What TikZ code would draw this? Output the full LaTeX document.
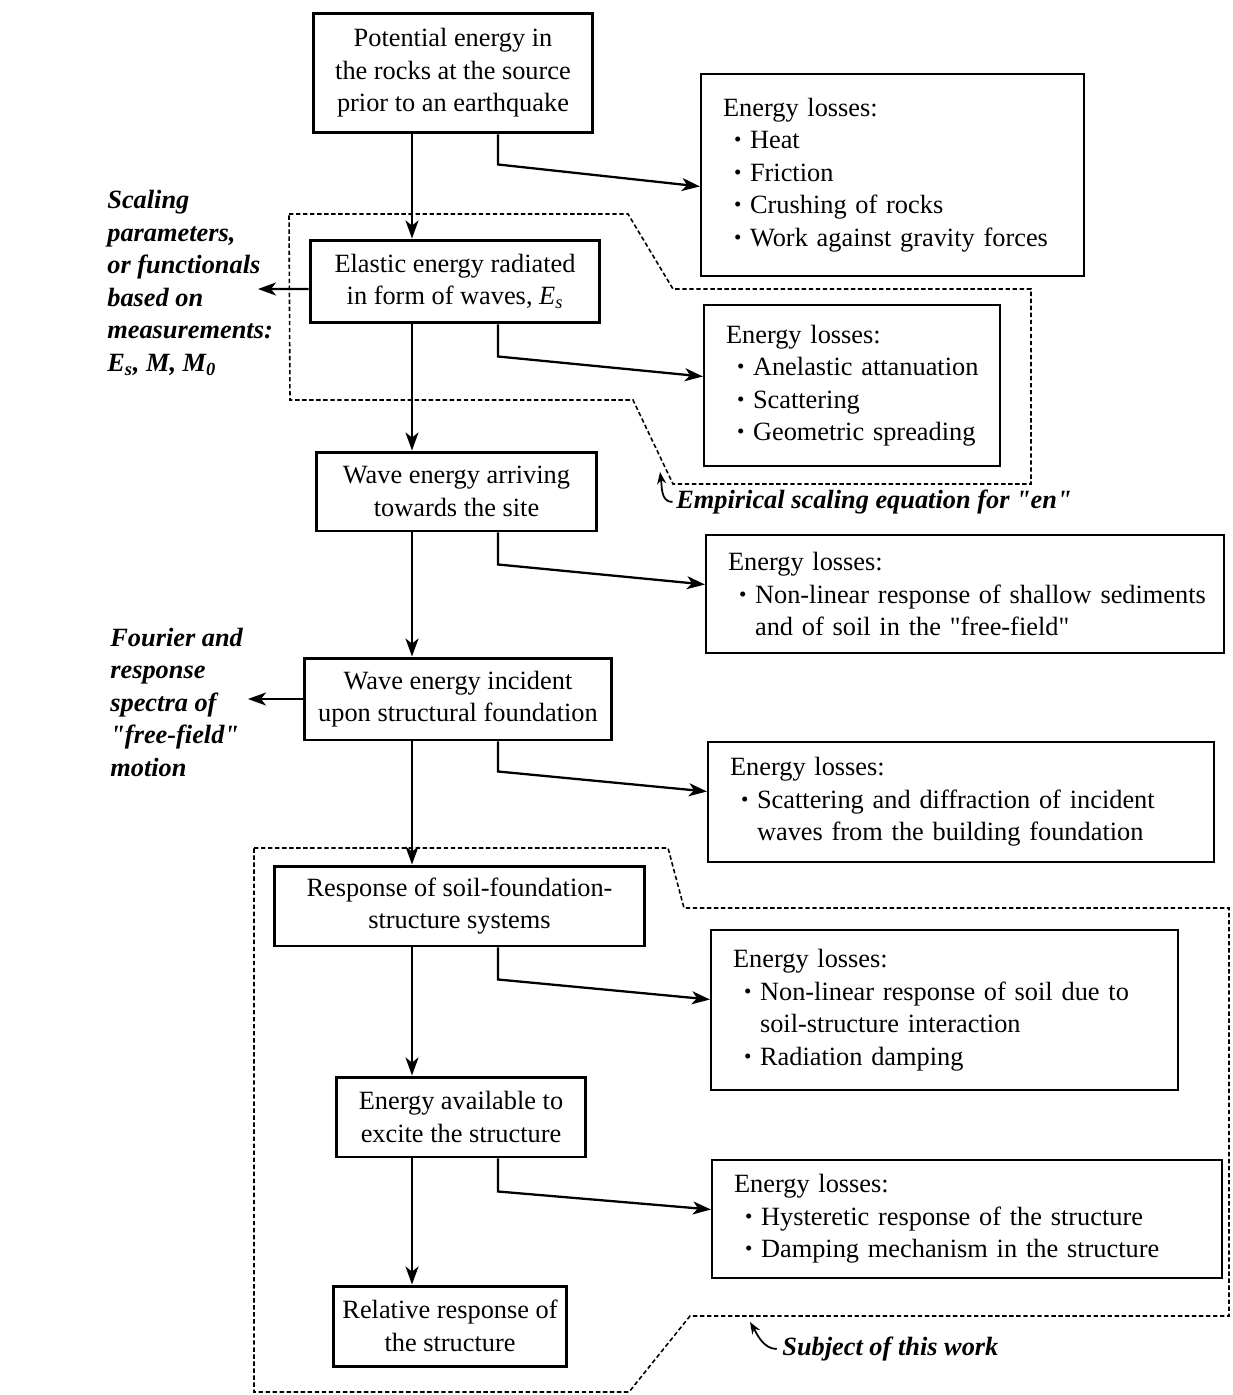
\documentclass[tikz,border=0pt]{standalone}
\usepackage{fontspec}
\setmainfont{Liberation Serif}
\usetikzlibrary{arrows.meta,calc}

\newcommand{\lossbul}[1]{\hspace*{0.22cm}\makebox[0.32cm][l]{\raisebox{0.04cm}{\scalebox{0.8}{\textbullet}}}\mbox{#1}}
\newcommand{\losscont}[1]{\hspace*{0.54cm}\mbox{#1}}
\newcommand{\dq}{\textquotedbl}

\begin{document}
\begin{tikzpicture}[
  x=0.02cm, y=-0.02cm,
  every node/.style={font=\fontsize{15pt}{18.5pt}\selectfont},
  main_box/.style={draw, line width=1.7pt, align=center, inner sep=0pt},
  loss_box/.style={draw, line width=1.3pt, align=left, inner xsep=0.44cm, inner ysep=0pt},
  side_note/.style={align=left, inner sep=0pt, font=\fontsize{15pt}{18.5pt}\selectfont\bfseries\itshape},
  arr/.style={line width=1.3pt, -{Stealth[length=0.36cm, width=0.26cm, inset=0.1cm]}},
  hook_arr/.style={line width=1pt, -{Stealth[length=0.24cm, width=0.18cm]}},
  dash_region/.style={line width=0.9pt, dash pattern=on 2.5pt off 1.5pt}
  ]
	\useasboundingbox (0,0) rectangle (1232,1395);

	\node[main_box, minimum width=5.6cm, minimum height=2.4cm] (src) at (453,73) {Potential energy in\\the rocks at the source\\prior to an earthquake};
	\node[main_box, minimum width=5.8cm, minimum height=1.66cm] (ela) at (455,281.5) {Elastic energy radiated\\in form of waves, {\itshape E}\textsubscript{\itshape s}};
	\node[main_box, minimum width=5.62cm, minimum height=1.58cm] (site) at (456.5,491.5) {Wave energy arriving\\towards the site};
	\node[main_box, minimum width=6.16cm, minimum height=1.64cm] (inc) at (458,699) {Wave energy incident\\upon structural foundation};
	\node[main_box, minimum width=7.42cm, minimum height=1.6cm] (ssi) at (459.5,906) {Response of soil-foundation-\\structure systems};
	\node[main_box, minimum width=5.0cm, minimum height=1.6cm] (avail) at (461,1117) {Energy available to\\excite the structure};
	\node[main_box, minimum width=4.68cm, minimum height=1.6cm] (rel) at (450,1326) {Relative response of\\the structure};

	\node[loss_box, text width=6.78cm, minimum height=4.04cm] (loss1) at (892.5,175) {Energy losses:\\\lossbul{Heat}\\\lossbul{Friction}\\\lossbul{Crushing of rocks}\\\lossbul{Work against gravity forces}};
	\node[loss_box, text width=5.04cm, minimum height=3.22cm] (loss2) at (852,385.5) {Energy losses:\\\lossbul{Anelastic attanuation}\\\lossbul{Scattering}\\\lossbul{Geometric spreading}};
	\node[loss_box, text width=9.48cm, minimum height=2.36cm] (loss3) at (965,594) {Energy losses:\\\lossbul{Non-linear response of shallow sediments}\\\losscont{and of soil in the \dq free-field\dq}};
	\node[loss_box, text width=9.24cm, minimum height=2.4cm] (loss4) at (961,802) {Energy losses:\\\lossbul{Scattering and diffraction of incident}\\\losscont{waves from the building foundation}};
	\node[loss_box, text width=8.46cm, minimum height=3.2cm] (loss5) at (944.5,1010) {Energy losses:\\\lossbul{Non-linear response of soil due to}\\\losscont{soil-structure interaction}\\\lossbul{Radiation damping}};
	\node[loss_box, text width=9.32cm, minimum height=2.36cm] (loss6) at (967,1219) {Energy losses:\\\lossbul{Hysteretic response of the structure}\\\lossbul{Damping mechanism in the structure}};

	\node[side_note, anchor=west] (scal) at (107,283) {Scaling\\parameters,\\or functionals\\based on\\measurements:\\E\textsubscript{s}, M, M\textsubscript{0}};
	\node[side_note, anchor=west] (four) at (110,702) {Fourier and\\response\\spectra of\\\dq free-field\dq\\motion};
	\node[side_note, anchor=west] (emp) at (676,502) {Empirical scaling equation for \dq en\dq};
	\node[side_note, anchor=west] (subj) at (782,1349) {Subject of this work};

	\coordinate (spine) at (412,0);
	\coordinate (side) at (498,0);
	\coordinate (scaltip) at (258,289);
	\coordinate (fourtip) at (248,699);
	\coordinate (emptip) at (660,472);
	\coordinate (subjtip) at (750,1322);

	\draw[dash_region] (289,214) -- (628,214) -- (673,289) -- (1031,289) -- (1031,484) -- (673,484) -- (633,400) -- (290,400) -- cycle;
	\draw[dash_region] (254,848) -- (668,848) -- (684,908) -- (1229,908) -- (1229,1316) -- (690,1316) -- (629,1392) -- (254,1392) -- cycle;

	\draw[arr] (src.south -| spine) -- (ela.north -| spine);
	\draw[arr] (ela.south -| spine) -- (site.north -| spine);
	\draw[arr] (site.south -| spine) -- (inc.north -| spine);
	\draw[arr] (inc.south -| spine) -- (ssi.north -| spine);
	\draw[arr] (ssi.south -| spine) -- (avail.north -| spine);
	\draw[arr] (avail.south -| spine) -- (rel.north -| spine);

	\draw[arr] (src.south -| side) -- ++(0,30) -- ($(src.south -| loss1.west)+(0,52)$);
	\draw[arr] (ela.south -| side) -- ++(0,32) -- ($(ela.south -| loss2.west)+(0,52)$);
	\draw[arr] (site.south -| side) -- ++(0,32) -- ($(site.south -| loss3.west)+(0,52)$);
	\draw[arr] (inc.south -| side) -- ++(0,30) -- ($(inc.south -| loss4.west)+(0,50)$);
	\draw[arr] (ssi.south -| side) -- ++(0,32) -- ($(ssi.south -| loss5.west)+(0,52)$);
	\draw[arr] (avail.south -| side) -- ++(0,33) -- ($(avail.south -| loss6.west)+(0,51)$);

	\draw[arr] ([yshift=-0.15cm]ela.west) -- (scaltip);
	\draw[arr] (inc.west) -- (fourtip);

	\draw[hook_arr] ([xshift=-2pt]emp.west) .. controls +(-12,0) and +(2,14) .. (emptip);
	\draw[hook_arr] ([xshift=-3pt]subj.west) .. controls +(-14,0) and +(6,10) .. (subjtip);
\end{tikzpicture}
\end{document}
